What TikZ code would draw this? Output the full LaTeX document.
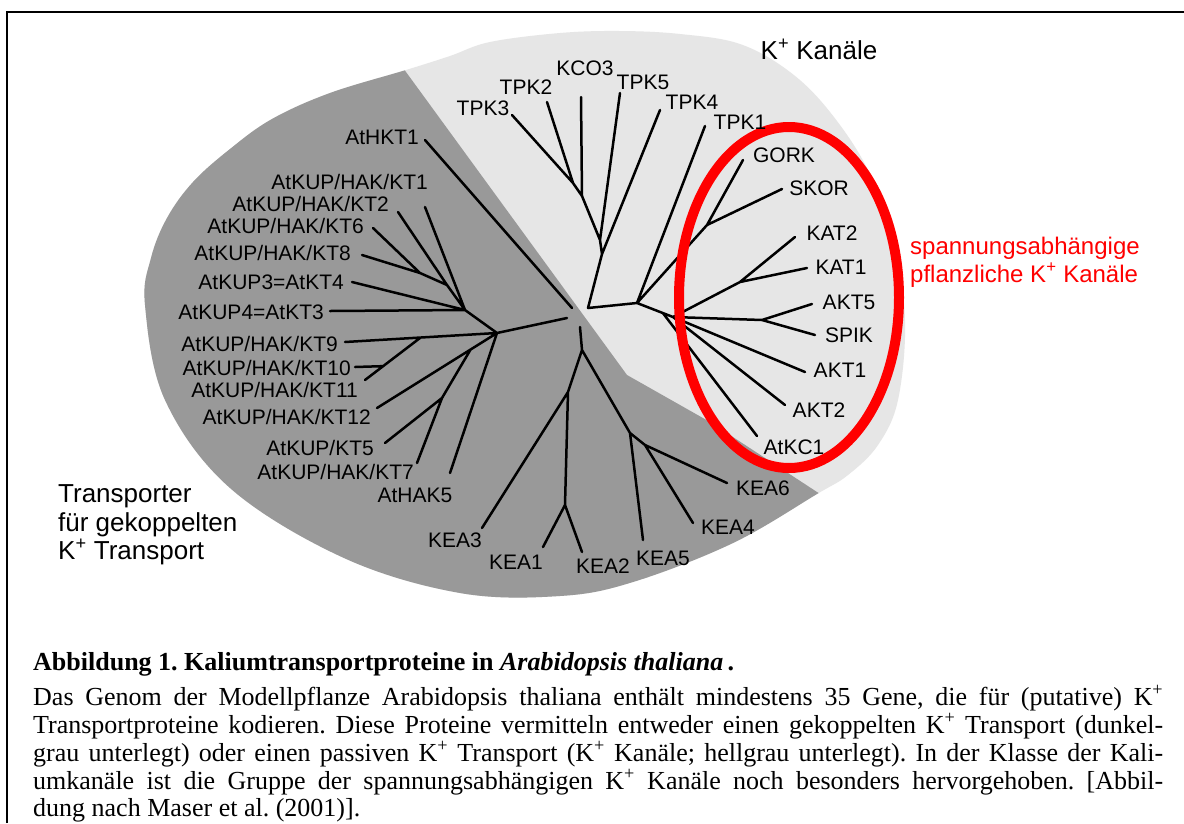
\documentclass[tikz,border=0pt]{standalone}
\usepackage{fontspec}
\setmainfont{Liberation Serif}
\newfontfamily\lsans{Liberation Sans}
\usetikzlibrary{calc}
\frenchspacing
\definecolor{darkg}{RGB}{153,153,153}
\definecolor{lightg}{RGB}{230,230,230}
\definecolor{ringred}{RGB}{255,0,0}
\newcommand\blobshape{plot[smooth cycle,tension=0.6] coordinates {(145,305) (151,258) (167,218) (193,182) (230,149) (272,119) (330,93) (406,70) (450,56) (490,42) (560,33) (620,31) (680,34) (740,44) (790,72) (830,112) (868,170) (893,240) (905,320) (898,400) (878,445) (848,475) (817,494) (733,543) (633,582) (560,596) (460,593) (344,558) (230,488) (165,400)}}
\begin{document}
\begin{tikzpicture}[x=1pt,y=-1pt,
  br/.style={line width=2.5pt,line cap=round,line join=round},
  lab/.style={font=\lsans\fontsize{21}{23}\selectfont,inner sep=0pt},
  big/.style={font=\lsans\fontsize{26}{28}\selectfont,inner sep=0pt},
  redlab/.style={font=\lsans\fontsize{24}{25}\selectfont,inner sep=0pt,text=ringred},
  ring/.style={draw=ringred,line width=10pt},
  capline/.style={font=\fontsize{26}{28}\selectfont,inner sep=0pt,anchor=base west},
  frame/.style={line width=2pt}]
\useasboundingbox (0,0) rectangle (1184,823);
\fill[white] (0,0) rectangle (1184,823);
% frame
\coordinate (fbl) at (7,823);
\coordinate (ftl) at (7,12);
\coordinate (ftr) at (1184,12);
\draw[frame] (fbl) -- (ftl) -- (ftr);
% background blob
\fill[lightg] \blobshape;
\begin{scope}
\clip \blobshape;
\fill[darkg] (0,0) -- (353.5,0) -- (627,375) -- (710,422) -- (817,492) -- (1000,612) -- (1000,700) -- (0,700) -- cycle;
\end{scope}
% ---------- KUP group
\coordinate (hktE) at (425,140);
\coordinate (hktB) at (572,308);
\coordinate (kt1E) at (425,207);
\coordinate (kt2E) at (398,212);
\coordinate (kt6E) at (373,228);
\coordinate (kt8E) at (362,255);
\coordinate (kt4E) at (352,282);
\coordinate (kt3E) at (330,311);
\coordinate (n68) at (420,273);
\coordinate (n2) at (447,285);
\coordinate (n1) at (465,310);
\coordinate (M) at (497,333);
\coordinate (kupB) at (567,318);
\coordinate (kt9E) at (345,342);
\coordinate (n1011) at (420,338);
\coordinate (kt11E) at (365,380);
\coordinate (n10) at ($(kt11E)!0.33!(n1011)$);
\coordinate (kt10E) at (355,367);
\coordinate (kt12E) at (377,408);
\coordinate (P) at ($(kt12E)!0.78!(M)$);
\coordinate (Q) at (442,398);
\coordinate (kt5E) at (385,443);
\coordinate (kt7E) at (417,463);
\coordinate (hak5E) at (450,473);
\draw[br] (hktE) -- (hktB);
\draw[br] (kt6E) -- (n68) (kt8E) -- (n68) (n68) -- (n2) (kt2E) -- (n2) (n2) -- (n1)
  (kt1E) -- (n1) (kt4E) -- (n1) (kt3E) -- (n1) (n1) -- (M) -- (kupB);
\draw[br] (kt9E) -- (M) (kt11E) -- (n1011) (kt10E) -- (n10) (kt12E) -- (M)
  (P) -- (Q) (Q) -- (kt5E) (Q) -- (kt7E) (hak5E) -- (M);
% ---------- KEA group
\coordinate (keaB) at (580,327);
\coordinate (B) at (582,350);
\coordinate (C) at (568,392);
\coordinate (E) at (565,505);
\coordinate (D) at (630,433);
\coordinate (F) at (645,445);
\coordinate (kea3E) at (482,528);
\coordinate (kea1E) at (543,547);
\coordinate (kea2E) at (582,552);
\coordinate (kea5E) at (643,540);
\coordinate (kea4E) at (693,523);
\coordinate (kea6E) at (727,483);
\draw[br] (keaB) -- (B) -- (C) -- (E) (C) -- (kea3E) (E) -- (kea1E) (E) -- (kea2E)
  (B) -- (D) -- (kea5E) (D) -- (F) -- (kea4E) (F) -- (kea6E);
% ---------- channel group
\coordinate (R) at (588,308);
\coordinate (tD) at (602,254);
\coordinate (tC) at (600,240);
\coordinate (tB) at (582,196);
\coordinate (tA) at (573,183);
\coordinate (tpk3E) at (512,115);
\coordinate (tpk2E) at (547,102);
\coordinate (kco3E) at (581,97);
\coordinate (tpk5E) at (620,93);
\coordinate (tpk4E) at (660,110);
\coordinate (tpk1E) at (705,126);
\coordinate (T) at (637,303);
\coordinate (GS) at (707,225);
\coordinate (gorkE) at (743,160);
\coordinate (skorE) at (782,189);
\coordinate (S) at (673,317);
\coordinate (K) at (740,282);
\coordinate (kat2E) at (795,237);
\coordinate (kat1E) at (807,268);
\coordinate (H) at (762,320);
\coordinate (akt5E) at (812,304);
\coordinate (spikE) at (815,335);
\coordinate (akt1E) at (805,372);
\coordinate (akt2E) at (785,405);
\coordinate (Sx) at ($(T)!0.72!(S)$);
\coordinate (atkc1E) at (757,436);
\draw[br] (R) -- (tD) -- (tC) -- (tB) -- (tA) (tA) -- (tpk3E) (tA) -- (tpk2E) (tB) -- (kco3E)
  (tC) -- (tpk5E) (tD) -- (tpk4E);
\draw[br] (R) -- (T) -- (tpk1E) (T) -- (GS) -- (gorkE) (GS) -- (skorE)
  (T) -- (S) -- (K) -- (kat2E) (K) -- (kat1E) (S) -- (H) -- (akt5E) (H) -- (spikE)
  (S) -- (akt1E) (S) -- (akt2E) (Sx) -- (atkc1E);
% red ring
\coordinate (ringC) at (789,297.5);
\draw[ring] (ringC) ellipse [x radius=110pt,y radius=170.5pt];
% ---------- labels left
\node[lab,anchor=base east] (lhkt) at (419,144.5) {AtHKT1};
\node[lab,anchor=base east] (lkt1) at (428,189.5) {AtKUP/HAK/KT1};
\node[lab,anchor=base east] (lkt2) at (389,211) {AtKUP/HAK/KT2};
\node[lab,anchor=base east] (lkt6) at (364,233) {AtKUP/HAK/KT6};
\node[lab,anchor=base east] (lkt8) at (351,260.5) {AtKUP/HAK/KT8};
\node[lab,anchor=base east] (lkt4) at (344,289.5) {AtKUP3=AtKT4};
\node[lab,anchor=base east] (lkt3) at (324,319.5) {AtKUP4=AtKT3};
\node[lab,anchor=base east] (lkt9) at (338,351.5) {AtKUP/HAK/KT9};
\node[lab,anchor=base east] (lkt10) at (351,375.5) {AtKUP/HAK/KT10};
\node[lab,anchor=base east] (lkt11) at (358,397.5) {AtKUP/HAK/KT11};
\node[lab,anchor=base east] (lkt12) at (371,424.5) {AtKUP/HAK/KT12};
\node[lab,anchor=base east] (lkt5) at (374,455.5) {AtKUP/KT5};
\node[lab,anchor=base east] (lkt7) at (414,479.5) {AtKUP/HAK/KT7};
\node[lab,anchor=base] (lhak5) at (415,502.5) {AtHAK5};
% KEA labels
\node[lab,anchor=base] (lkea3) at (455,547.5) {KEA3};
\node[lab,anchor=base] (lkea1) at (516,569.5) {KEA1};
\node[lab,anchor=base] (lkea2) at (603,573.5) {KEA2};
\node[lab,anchor=base] (lkea5) at (663,565.5) {KEA5};
\node[lab,anchor=base] (lkea4) at (728,534.5) {KEA4};
\node[lab,anchor=base] (lkea6) at (763,495.5) {KEA6};
% channel labels
\node[lab,anchor=base] (ltpk3) at (483,115.5) {TPK3};
\node[lab,anchor=base] (ltpk2) at (526,94.5) {TPK2};
\node[lab,anchor=base] (lkco3) at (585,75.5) {KCO3};
\node[lab,anchor=base] (ltpk5) at (643,89.5) {TPK5};
\node[lab,anchor=base] (ltpk4) at (692,109.5) {TPK4};
\node[lab,anchor=base] (ltpk1) at (740,129.5) {TPK1};
\node[lab,anchor=base] (lgork) at (784,162.5) {GORK};
\node[lab,anchor=base] (lskor) at (819,195.5) {SKOR};
\node[lab,anchor=base] (lkat2) at (832,240.5) {KAT2};
\node[lab,anchor=base] (lkat1) at (841,274.5) {KAT1};
\node[lab,anchor=base] (lakt5) at (849,309.5) {AKT5};
\node[lab,anchor=base] (lspik) at (849,342.5) {SPIK};
\node[lab,anchor=base] (lakt1) at (840,377.5) {AKT1};
\node[lab,anchor=base] (lakt2) at (819,417.5) {AKT2};
\node[lab,anchor=base] (latkc1) at (794,454.5) {AtKC1};
% group labels
\node[big,anchor=base] (kkan) at (819,59) {K\textsuperscript{+} Kanäle};
\node[big,anchor=base west] (tr1) at (58,502) {Transporter};
\node[big,anchor=base west] (tr2) at (58,531) {für gekoppelten};
\node[big,anchor=base west] (tr3) at (58,559) {K\textsuperscript{+} Transport};
\node[redlab,anchor=base west] (rl1) at (910,254) {spannungsabhängige};
\node[redlab,anchor=base west] (rl2) at (910,282) {pflanzliche K\textsuperscript{+} Kanäle};
% ---------- caption
\node[capline] (cap0) at (33,670) {\textbf{Abbildung 1. Kaliumtransportproteine in \textit{Arabidopsis thaliana}\,.}};
\node[capline] (cap1) at (33,705) {\makebox[1130pt][s]{Das Genom der Modellpflanze Arabidopsis thaliana enthält mindestens 35 Gene, die für (putative) K\textsuperscript{+}}};
\node[capline] (cap2) at (33,733) {\makebox[1130pt][s]{Transportproteine kodieren. Diese Proteine vermitteln entweder einen gekoppelten K\textsuperscript{+} Transport (dunkel-}};
\node[capline] (cap3) at (33,761) {\makebox[1130pt][s]{grau unterlegt) oder einen passiven K\textsuperscript{+} Transport (K\textsuperscript{+} Kanäle; hellgrau unterlegt). In der Klasse der Kali-}};
\node[capline] (cap4) at (33,789) {\makebox[1130pt][s]{umkanäle ist die Gruppe der spannungsabhängigen K\textsuperscript{+} Kanäle noch besonders hervorgehoben. [Abbil-}};
\node[capline] (cap5) at (33,816) {dung nach Maser et al. (2001)].};
\end{tikzpicture}
\end{document}
